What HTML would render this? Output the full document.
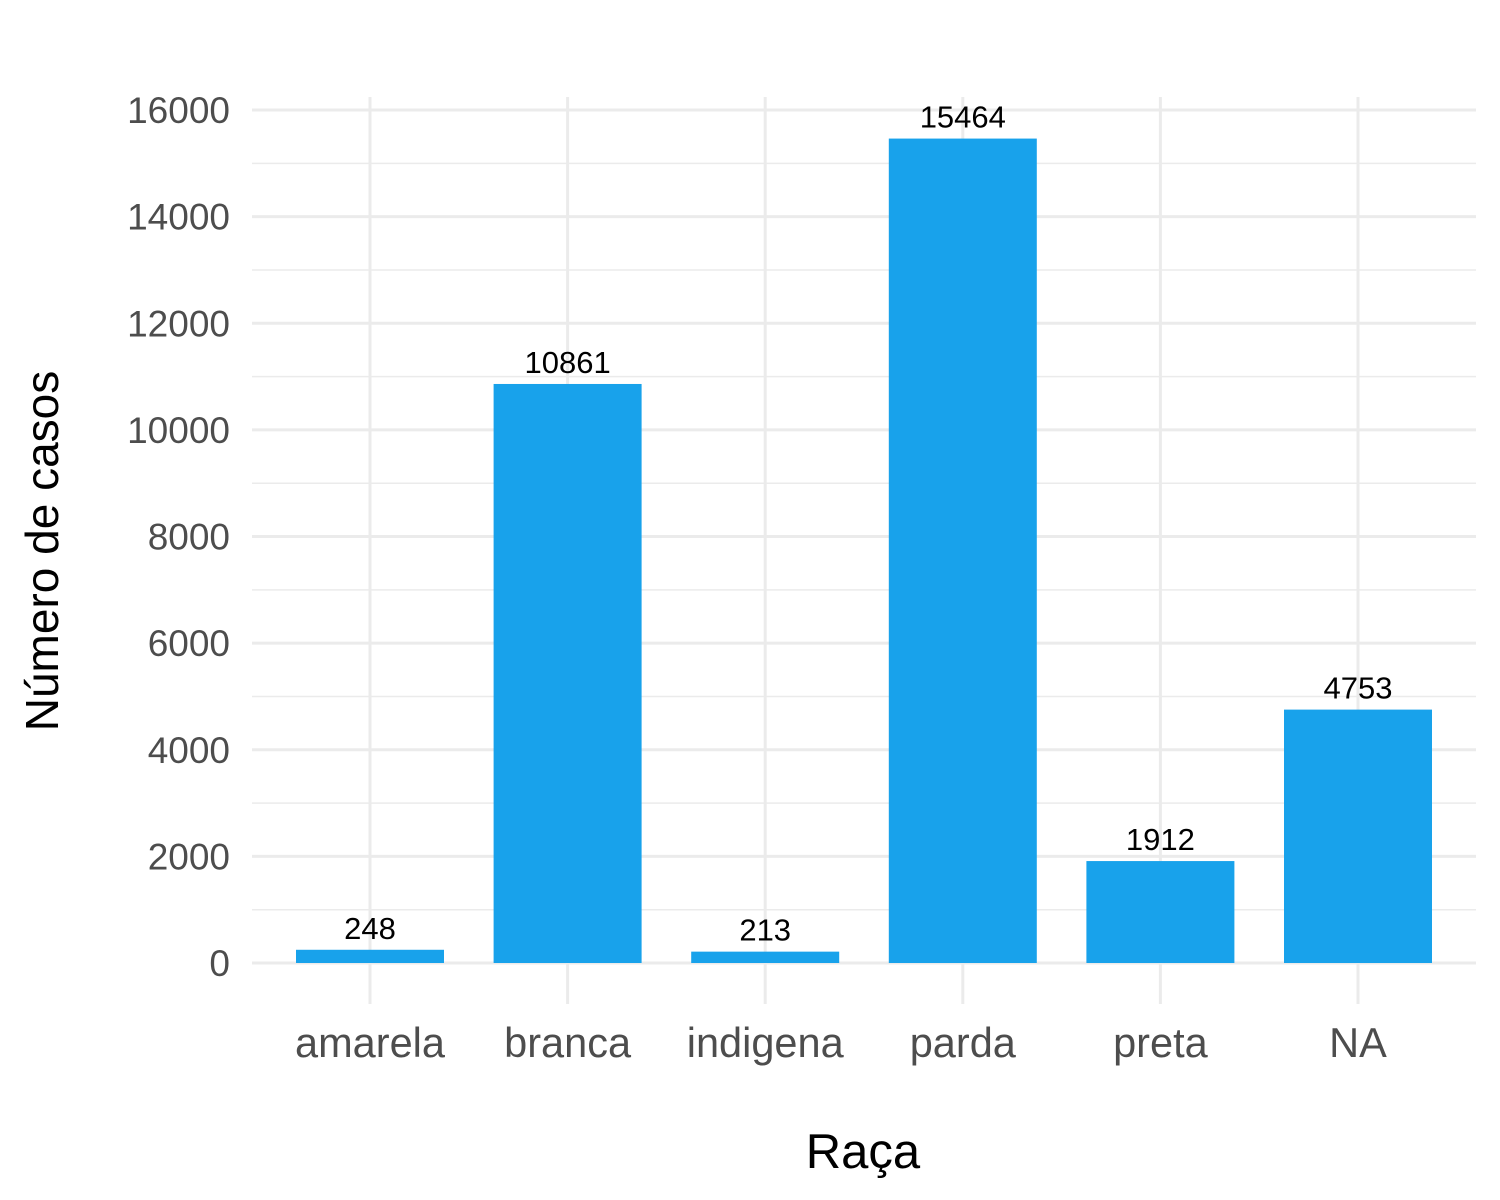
<!DOCTYPE html>
<html><head><meta charset="utf-8"><style>
html,body{margin:0;padding:0;background:#fff;}
svg{display:block;font-family:"Liberation Sans",Arial,sans-serif;}
</style></head><body>
<svg id="chart" width="1500" height="1200" viewBox="0 0 1500 1200">
<g id="grid"></g>
<g id="bars"></g>
<g id="labels"></g>
<g id="yticks"></g>
<g id="xticks"></g>
<text x="863" y="1168" font-size="49" text-anchor="middle" fill="#000">Raça</text>
<text transform="translate(58,551) rotate(-90)" font-size="46" text-anchor="middle" fill="#000">Número de casos</text>
</svg>
<script>
const categories = ["amarela","branca","indigena","parda","preta","NA"];
const values = [248,10861,213,15464,1912,4753];
const yTicks = [0,2000,4000,6000,8000,10000,12000,14000,16000];
const yMinor = [1000,3000,5000,7000,9000,11000,13000,15000];

const NS="http://www.w3.org/2000/svg";
const x0=252,x1=1476,yTop=97,yBot=1004;
const y=v=>963-v*(853/16000);
const xc=i=>370+i*197.6;
const bw=148;
function mk(tag,attrs,parent){const e=document.createElementNS(NS,tag);for(const k in attrs)e.setAttribute(k,attrs[k]);parent.appendChild(e);return e;}
const grid=document.getElementById('grid');
yMinor.forEach(v=>{const l=mk('line',{x1:x0,x2:x1,y1:y(v),y2:y(v),stroke:'#ebebeb','stroke-width':1.5},grid);

});
yTicks.forEach(v=>{const l=mk('line',{x1:x0,x2:x1,y1:y(v),y2:y(v),stroke:'#ebebeb','stroke-width':3},grid);


const t=mk('text',{x:230,y:y(v)+13,'font-size':37,'text-anchor':'end',fill:'#4d4d4d'},document.getElementById('yticks'));t.textContent=v;

});
categories.forEach((c,i)=>{
const l=mk('line',{x1:xc(i),x2:xc(i),y1:yTop,y2:yBot,stroke:'#ebebeb','stroke-width':3},grid);


const r=mk('rect',{x:xc(i)-bw/2,y:y(values[i]),width:bw,height:963-y(values[i]),fill:'#18A2EB'},document.getElementById('bars'));


const t=mk('text',{x:xc(i),y:y(values[i])-11,'font-size':31,'text-anchor':'middle',fill:'#000'},document.getElementById('labels'));t.textContent=values[i];


const xt=mk('text',{x:xc(i),y:1057,'font-size':41.5,'text-anchor':'middle',fill:'#4d4d4d'},document.getElementById('xticks'));xt.textContent=c;


});
</script>
</body></html>
